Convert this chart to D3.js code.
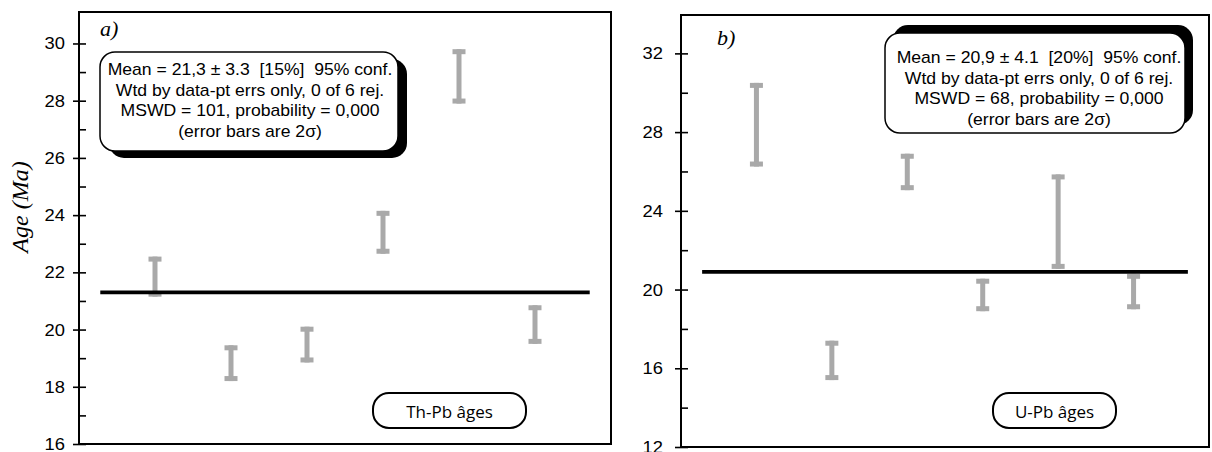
<!DOCTYPE html>
<html>
<head>
<meta charset="utf-8">
<script src="https://cdn.jsdelivr.net/npm/d3@7/dist/d3.min.js"></script>
<style>
  html, body { margin: 0; padding: 0; background: #fff; }
  svg { display: block; }
  text { white-space: pre; }
</style>
</head>
<body>
<svg id="chart" width="1212" height="452"></svg>
<script>
// Sample positions along the x axis (analysis number)
const spots = [1, 2, 3, 4, 5, 6];

// a) Th-Pb ages, 2-sigma error limits (Ma)
const thpbLow  = [21.15, 18.2, 18.85, 22.65, 27.9, 19.5];
const thpbHigh = [22.55, 19.45, 20.1, 24.15, 29.8, 20.85];
const thpbMean = 21.3;
const thpbStats = [
  "Mean = 21,3 \u00b1 3.3  [15%]  95% conf.",
  "Wtd by data-pt errs only, 0 of 6 rej.",
  "MSWD = 101, probability = 0,000",
  "(error bars are 2\u03c3)"
];
const thpbTicks = [16, 18, 20, 22, 24, 26, 28, 30];
const thpbMinor = [17, 19, 21, 23, 25, 27, 29];

// b) U-Pb ages, 2-sigma error limits (Ma)
const upbLow  = [26.25, 15.4, 25.05, 18.9, 21.05, 19.0];
const upbHigh = [30.5, 17.4, 26.9, 20.55, 25.85, 20.8];
const upbMean = 20.9;
const upbStats = [
  "Mean = 20,9 \u00b1 4.1  [20%]  95% conf.",
  "Wtd by data-pt errs only, 0 of 6 rej.",
  "MSWD = 68, probability = 0,000",
  "(error bars are 2\u03c3)"
];
const upbTicks = [12, 16, 20, 24, 28, 32];
const upbMinor = [14, 18, 22, 26, 30];

const svg = d3.select("#chart");
const SANS = "'Liberation Sans', Arial, sans-serif";
const SERIF = "'Liberation Serif', 'Times New Roman', serif";
const BAR = "#a9a9a9";

function panel(cfg) {
  const { left, right, top, bottom, domain } = cfg;
  const x = d3.scaleLinear().domain([0, 7]).range([left, right]);
  const y = d3.scaleLinear().domain(domain).range([bottom, top]);
  const g = svg.append("g");

  // frame
  g.append("rect")
    .attr("x", left).attr("y", top)
    .attr("width", right - left).attr("height", bottom - top)
    .attr("fill", "none").attr("stroke", "#000").attr("stroke-width", 2);

  // major ticks crossing the axis, with labels
  const major = g.append("g")
    .attr("transform", `translate(${left},0)`)
    .call(d3.axisLeft(y).tickValues(cfg.ticks).tickSize(6).tickPadding(cfg.pad));
  major.select(".domain").remove();
  major.selectAll(".tick line").attr("x1", 7).attr("x2", -6)
    .attr("stroke", "#000").attr("stroke-width", 1.6);
  major.selectAll(".tick text")
    .attr("font-family", SANS).attr("font-size", 17).attr("fill", "#000")
    .attr("x", -(6 + cfg.pad) / 1.08)
    .attr("transform", "scale(1.08,1)");

  // minor ticks, inside only
  const minor = g.append("g")
    .attr("transform", `translate(${left},0)`)
    .call(d3.axisLeft(y).tickValues(cfg.minor).tickSize(-7).tickFormat(""));
  minor.select(".domain").remove();
  minor.selectAll(".tick line").attr("stroke", "#000").attr("stroke-width", 1.6);

  // error bars
  const bars = g.append("g").selectAll("g")
    .data(spots.map((s, i) => ({ s, lo: cfg.low[i], hi: cfg.high[i] })))
    .join("g").attr("fill", BAR);
  bars.append("rect")
    .attr("x", d => x(d.s) - 2.5).attr("width", 5)
    .attr("y", d => y(d.hi)).attr("height", d => y(d.lo) - y(d.hi));
  bars.append("rect")
    .attr("x", d => x(d.s) - 6.5).attr("width", 13)
    .attr("y", d => y(d.hi)).attr("height", 5);
  bars.append("rect")
    .attr("x", d => x(d.s) - 6.5).attr("width", 13)
    .attr("y", d => y(d.lo) - 5).attr("height", 5);

  // weighted mean line
  g.append("line")
    .attr("x1", x(0.28)).attr("x2", x(6.72))
    .attr("y1", y(cfg.mean)).attr("y2", y(cfg.mean))
    .attr("stroke", "#000").attr("stroke-width", 3.6);

  // panel letter
  g.append("text")
    .attr("x", left + cfg.letterDx).attr("y", top + cfg.letterDy)
    .attr("font-family", SERIF).attr("font-style", "italic")
    .attr("font-size", 22).text(cfg.letter);

  // statistics box with offset shadow
  const b = cfg.box;
  g.append("rect")
    .attr("x", b.x + b.sx).attr("y", b.y + b.sy)
    .attr("width", b.w).attr("height", b.h).attr("rx", 15)
    .attr("fill", "#000");
  g.append("rect")
    .attr("x", b.x).attr("y", b.y)
    .attr("width", b.w).attr("height", b.h).attr("rx", 15)
    .attr("fill", "#fff").attr("stroke", "#000").attr("stroke-width", 1.5);
  cfg.stats.forEach((line, i) => {
    g.append("text")
      .attr("transform", `translate(${b.x + b.w / 2 + b.tdx},${b.y + b.t0 + i * 20.7}) scale(1.1,1)`)
      .attr("text-anchor", "middle")
      .attr("font-family", SANS).attr("font-size", 16)
      .text(line);
  });

  // method label
  const m = cfg.method;
  g.append("rect")
    .attr("x", m.x).attr("y", m.y).attr("width", m.w).attr("height", 35)
    .attr("rx", 16).attr("fill", "#fff")
    .attr("stroke", "#000").attr("stroke-width", 2);
  g.append("text")
    .attr("x", m.x + m.w / 2).attr("y", m.y + 25)
    .attr("text-anchor", "middle")
    .attr("font-family", "'Open Sans', sans-serif").attr("font-size", 17)
    .text(m.label);
}

panel({
  left: 79, right: 611, top: 12, bottom: 444, domain: [16, 31.1],
  ticks: thpbTicks, minor: thpbMinor, pad: 8,
  low: thpbLow, high: thpbHigh, mean: thpbMean,
  letter: "a)", letterDx: 21, letterDy: 24,
  box: { x: 100, y: 52, w: 298, h: 99, sx: 9, sy: 7, t0: 23, tdx: 1 },
  stats: thpbStats,
  method: { x: 373, y: 393, w: 153, label: "Th-Pb \u00e2ges" }
});

panel({
  left: 681, right: 1209, top: 15, bottom: 447, domain: [12, 33.95],
  ticks: upbTicks, minor: upbMinor, pad: 12,
  low: upbLow, high: upbHigh, mean: upbMean,
  letter: "b)", letterDx: 36, letterDy: 30,
  box: { x: 885, y: 33, w: 300, h: 100, sx: 8, sy: -8, t0: 30, tdx: 4 },
  stats: upbStats,
  method: { x: 993, y: 393, w: 123, label: "U-Pb \u00e2ges" }
});

// y axis title
svg.append("text")
  .attr("transform", "translate(28,207) rotate(-90)")
  .attr("text-anchor", "middle")
  .attr("font-family", SERIF).attr("font-style", "italic").attr("font-size", 24)
  .text("Age (Ma)");
</script>
</body>
</html>
